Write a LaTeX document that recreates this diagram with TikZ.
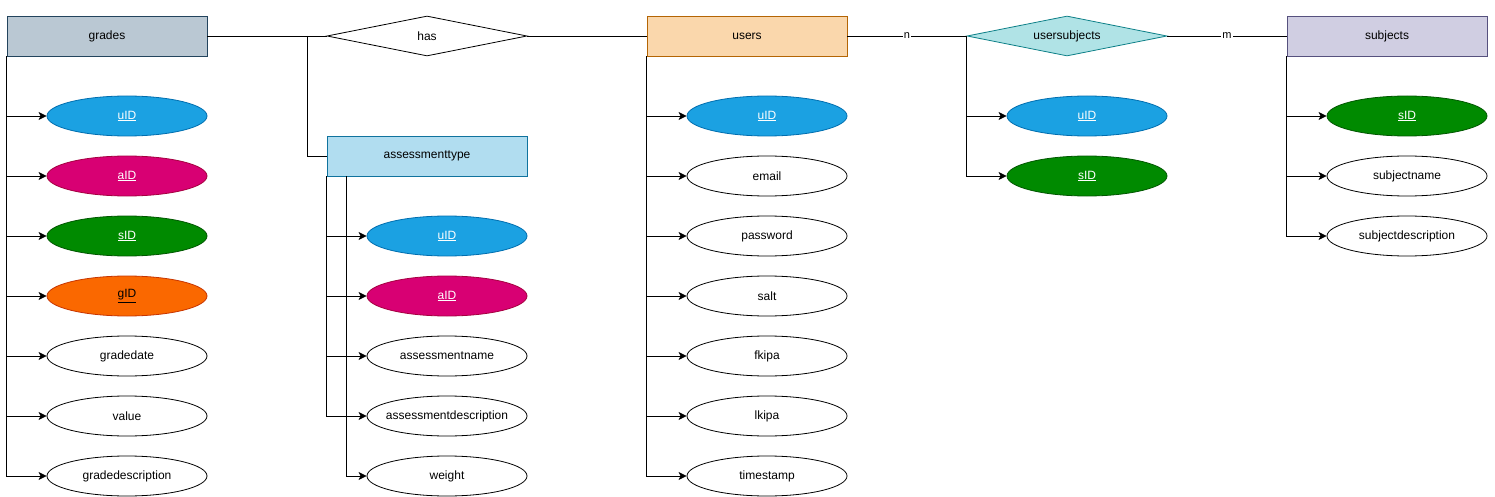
\documentclass[tikz,border=0pt]{standalone}
\usepackage{fontspec}
\setmainfont{Liberation Sans}
\usetikzlibrary{shapes.geometric,arrows.meta,calc}
\definecolor{gradesF}{HTML}{BAC8D3}\definecolor{gradesS}{HTML}{23445D}
\definecolor{usersF}{HTML}{FAD7AC}\definecolor{usersS}{HTML}{B46504}
\definecolor{usF}{HTML}{B0E3E6}\definecolor{usS}{HTML}{0E8088}
\definecolor{subjF}{HTML}{D0CEE2}\definecolor{subjS}{HTML}{56517E}
\definecolor{atF}{HTML}{B1DDF0}\definecolor{atS}{HTML}{10739E}
\definecolor{blueF}{HTML}{1BA1E2}\definecolor{blueS}{HTML}{006EAF}
\definecolor{pinkF}{HTML}{D80073}\definecolor{pinkS}{HTML}{A50040}
\definecolor{greenF}{HTML}{008A00}\definecolor{greenS}{HTML}{005700}
\definecolor{orangeF}{HTML}{FA6800}\definecolor{orangeS}{HTML}{C73500}
\tikzset{
  base/.style={font=\fontsize{12}{14}\selectfont, inner sep=0pt, line width=0.8pt},
  entity/.style={base, rectangle, minimum width=200pt, minimum height=40pt},
  rel/.style={base, diamond, aspect=5, minimum width=200pt, minimum height=40pt},
  attr/.style={base, ellipse, minimum width=160pt, minimum height=40pt, draw=black, fill=white},
  keyblue/.style={attr, fill=blueF, draw=blueS, text=white},
  keypink/.style={attr, fill=pinkF, draw=pinkS, text=white},
  keygreen/.style={attr, fill=greenF, draw=greenS, text=white},
  keyorange/.style={attr, fill=orangeF, draw=orangeS, text=black},
  conn/.style={line width=0.8pt, black},
  arr/.style={conn, -{Stealth[length=8pt,width=8pt,inset=2pt]}},
  card/.style={fill=white, inner sep=1pt, font=\fontsize{11}{13}\selectfont}
}
\begin{document}
\begin{tikzpicture}[x=1pt,y=-1pt]
\useasboundingbox (0,0) rectangle (1495,497);
% entities and relations
\node[entity, fill=gradesF, draw=gradesS] (grades) at (107,36) {grades};
\node[rel, draw=black, fill=white] (has) at (427,36) {has};
\node[entity, fill=usersF, draw=usersS] (users) at (747,36) {users};
\node[rel, fill=usF, draw=usS] (us) at (1067,36) {usersubjects};
\node[entity, fill=subjF, draw=subjS] (subjects) at (1387,36) {subjects};
\node[entity, fill=atF, draw=atS] (at) at (427,156) {assessmenttype};
% grades attributes
\node[keyblue] (g1) at (127,116) {\underline{uID}};
\node[keypink] (g2) at (127,176) {\underline{aID}};
\node[keygreen] (g3) at (127,236) {\underline{sID}};
\node[keyorange] (g4) at (127,296) {\underline{gID}};
\node[attr] (g5) at (127,356) {gradedate};
\node[attr] (g6) at (127,416) {value};
\node[attr] (g7) at (127,476) {gradedescription};
% assessmenttype attributes
\node[keyblue] (a1) at (447,236) {\underline{uID}};
\node[keypink] (a2) at (447,296) {\underline{aID}};
\node[attr] (a3) at (447,356) {assessmentname};
\node[attr] (a4) at (447,416) {\makebox[0pt]{assessmentdescription}};
\node[attr] (a5) at (447,476) {weight};
% users attributes
\node[keyblue] (u1) at (767,116) {\underline{uID}};
\node[attr] (u2) at (767,176) {email};
\node[attr] (u3) at (767,236) {password};
\node[attr] (u4) at (767,296) {salt};
\node[attr] (u5) at (767,356) {fkipa};
\node[attr] (u6) at (767,416) {lkipa};
\node[attr] (u7) at (767,476) {timestamp};
% usersubjects attributes
\node[keyblue] (s1) at (1087,116) {\underline{uID}};
\node[keygreen] (s2) at (1087,176) {\underline{sID}};
% subjects attributes
\node[keygreen] (b1) at (1407,116) {\underline{sID}};
\node[attr] (b2) at (1407,176) {subjectname};
\node[attr] (b3) at (1407,236) {subjectdescription};
% relation connectors
\draw[conn] (grades.east) -- (has.west);
\draw[conn] (has.east) -- (users.west);
\coordinate (hb) at (307,36);
\draw[conn] (hb) |- (at.west);
\draw[conn] (users.east) -- node[card]{n} (us.west);
\draw[conn] (us.east) -- node[card]{m} (subjects.west);
% attribute connectors
\foreach \n in {g1,g2,g3,g4,g5,g6,g7}
  \draw[arr] (grades.south west) |- (\n.west);
\foreach \n in {a1,a2,a3,a4}
  \draw[arr] (at.south west) |- (\n.west);
\coordinate (atw) at ($(at.south west)+(20,0)$);
\draw[arr] (atw) |- (a5.west);
\foreach \n in {u1,u2,u3,u4,u5,u6,u7}
  \draw[arr] (users.south west) |- (\n.west);
\foreach \n in {s1,s2}
  \draw[arr] (us.west) |- (\n.west);
\foreach \n in {b1,b2,b3}
  \draw[arr] (subjects.south west) |- (\n.west);
\end{tikzpicture}
\end{document}
